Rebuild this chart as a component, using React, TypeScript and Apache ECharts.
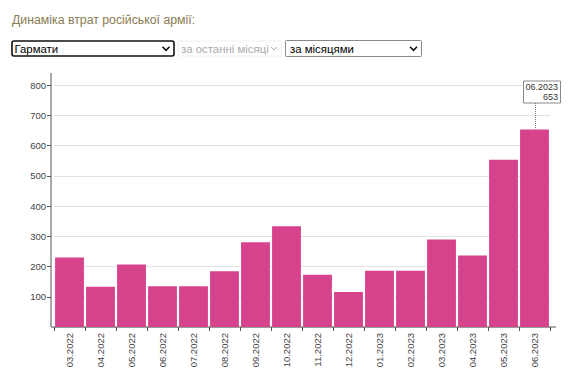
import React, { useEffect, useRef } from 'react';
import * as echarts from 'echarts';

const months = ['03.2022', '04.2022', '05.2022', '06.2022', '07.2022', '08.2022', '09.2022', '10.2022', '11.2022', '12.2022', '01.2023', '02.2023', '03.2023', '04.2023', '05.2023', '06.2023'];
const artillery = [230, 133, 207, 135, 135, 184, 280, 333, 173, 116, 186, 186, 289, 236, 553, 653];
const yMax = 800;
const yStep = 100;
const titleText = 'Динаміка втрат російської армії:';
const selectLabels = ['Гармати', 'за останні місяці', 'за місяцями'];
const highlightIndex = 15;

const FONT = 'Arial, "Liberation Sans", sans-serif';
const BAR = '#d7428d';
const AXIS = '#555';

const GRID = { left: 54, right: 20, top: 85, bottom: 55 };
const W = 570;
const H = 382;

function chevron(cx: number, cy: number, color: string, w = 3.5, lw = 1.6) {
  return {
    type: 'polyline',
    shape: { points: [[cx - w, cy - w / 2], [cx, cy + w / 2], [cx + w, cy - w / 2]] },
    style: { stroke: color, lineWidth: lw, fill: 'none' },
    silent: true,
  };
}

export default function App() {
  const ref = useRef<HTMLDivElement>(null);
  useEffect(() => {
    if (!ref.current) return;
    const chart = echarts.init(ref.current, null, { renderer: 'svg' });
    chart.setOption({
      animation: false,
      textStyle: { fontFamily: FONT },
      grid: { ...GRID },
      xAxis: {
        type: 'category',
        data: months,
        axisLine: { show: false },
        axisTick: { show: true, length: 4, lineStyle: { color: AXIS } },
        axisLabel: { rotate: 90, interval: 0, fontSize: 9.5, color: '#444', margin: 6, fontFamily: FONT },
      },
      yAxis: {
        type: 'value',
        min: 0,
        max: yMax,
        interval: yStep,
        offset: 3,
        axisLine: { show: false },
        axisTick: { show: true, length: 4, lineStyle: { color: AXIS } },
        axisLabel: { fontSize: 9.5, color: '#444', margin: 5, fontFamily: FONT, showMinLabel: false },
        splitLine: { show: true, lineStyle: { color: '#e2e2e2', width: 1 } },
      },
      series: [
        {
          type: 'bar',
          data: artillery,
          barCategoryGap: '7%',
          itemStyle: { color: BAR },
        },
      ],
    });

    const p = chart.convertToPixel({ seriesIndex: 0 }, [highlightIndex, artillery[highlightIndex]]) as number[];
    const zero = chart.convertToPixel({ seriesIndex: 0 }, [0, 0]) as number[];
    const gx0 = GRID.left;
    const gx1 = W - GRID.right;
    const boxX = p[0] - 11;
    const boxY = GRID.top - 4;
    const boxW = 37;
    const boxH = 22;

    chart.setOption({
      graphic: [
        { type: 'text', left: 12, top: 13.5, style: { text: titleText, fontSize: 12.3, fill: '#8a7b52', fontFamily: FONT }, silent: true },
        // select 1
        { type: 'rect', shape: { x: 12, y: 41, width: 162, height: 15, r: 2 }, style: { fill: '#fff', stroke: '#111', lineWidth: 1.6 } },
        { type: 'text', x: 14.5, y: 48.5, style: { text: selectLabels[0], fontSize: 11.4, fill: '#000', fontFamily: FONT, verticalAlign: 'middle' } },
        chevron(166, 48.5, '#111'),
        // select 2 (disabled)
        { type: 'rect', shape: { x: 178.5, y: 41, width: 103, height: 15 }, style: { fill: '#fff', stroke: '#f0f0f0', lineWidth: 1 } },
        { type: 'text', x: 181, y: 48.5, style: { text: selectLabels[1], fontSize: 11.4, fill: '#aaa', fontFamily: FONT, verticalAlign: 'middle' } },
        chevron(274, 48.5, '#aaa', 3, 1),
        // select 3
        { type: 'rect', shape: { x: 285.5, y: 40.5, width: 136, height: 16, r: 1 }, style: { fill: '#fff', stroke: '#8a8a8a', lineWidth: 1 } },
        { type: 'text', x: 290, y: 48.5, style: { text: selectLabels[2], fontSize: 11.4, fill: '#000', fontFamily: FONT, verticalAlign: 'middle' } },
        chevron(413.5, 48.5, '#111'),
        // axis lines
        { type: 'line', shape: { x1: gx0 - 3, y1: GRID.top - 12, x2: gx0 - 3, y2: zero[1] }, style: { stroke: AXIS, lineWidth: 1 } },
        { type: 'line', shape: { x1: gx0 - 3, y1: zero[1], x2: gx1 + 6, y2: zero[1] }, style: { stroke: AXIS, lineWidth: 1 } },
        // tooltip
        { type: 'line', shape: { x1: p[0] + 1, y1: boxY + boxH, x2: p[0] + 1, y2: p[1] }, style: { stroke: '#777', lineWidth: 1, lineDash: [1, 1] } },
        { type: 'rect', shape: { x: boxX, y: boxY, width: boxW, height: boxH }, style: { fill: '#fff', stroke: '#888', lineWidth: 1 } },
        { type: 'text', x: boxX + boxW - 2.5, y: boxY + 6, style: { text: months[highlightIndex], fontSize: 9, fill: '#333', align: 'right', verticalAlign: 'middle', fontFamily: FONT } },
        { type: 'text', x: boxX + boxW - 2.5, y: boxY + 16, style: { text: String(artillery[highlightIndex]), fontSize: 9, fill: '#333', align: 'right', verticalAlign: 'middle', fontFamily: FONT } },
      ],
    });

    return () => chart.dispose();
  }, []);
  return <div ref={ref} style={{ position: 'fixed', left: 0, top: 0, width: W, height: H, background: '#fff' }} />;
}
